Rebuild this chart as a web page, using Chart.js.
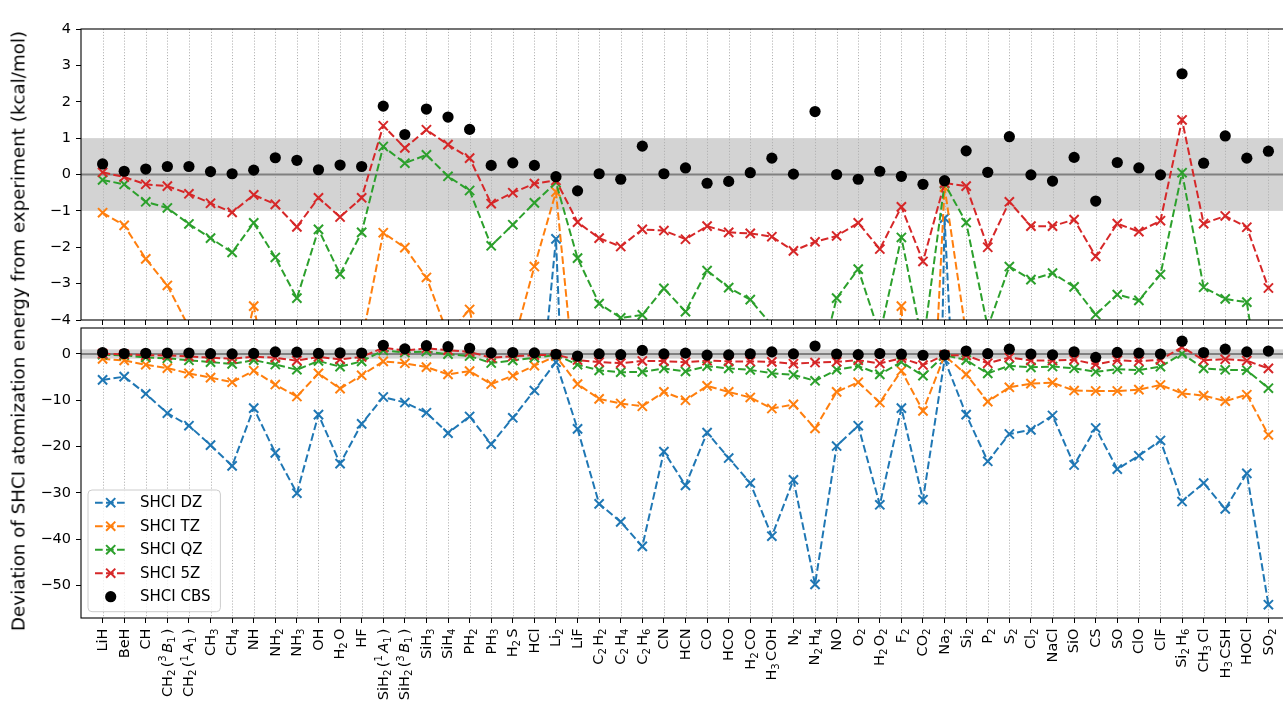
<!DOCTYPE html>
<html><head><meta charset="utf-8">
<script src="https://cdn.jsdelivr.net/npm/chart.js@4.4.0/dist/chart.umd.min.js"></script>
<style>
html,body{margin:0;padding:0;background:#fff;overflow:hidden;width:1283px;height:702px;position:relative;}
canvas{position:absolute;left:0;top:0;}
#ylab{position:absolute;left:18px;top:331px;transform:translate(-50%,-50%) rotate(-90deg);white-space:nowrap;font:18.3px "DejaVu Sans";color:#000;}
</style></head><body>
<canvas id="topc" width="1300" height="702"></canvas>
<canvas id="botc" width="1300" height="702"></canvas>
<div id="ylab">Deviation of SHCI atomization energy from experiment (kcal/mol)</div>
<script>
const categories = ['LiH','BeH','CH','CH₂(³B₁)','CH₂(¹A₁)','CH₃','CH₄','NH','NH₂','NH₃','OH','H₂O','HF',
  'SiH₂(¹A₁)','SiH₂(³B₁)','SiH₃','SiH₄','PH₂','PH₃','H₂S','HCl','Li₂','LiF','C₂H₂','C₂H₄','C₂H₆','CN','HCN',
  'CO','HCO','H₂CO','H₃COH','N₂','N₂H₄','NO','O₂','H₂O₂','F₂','CO₂','Na₂','Si₂','P₂','S₂','Cl₂','NaCl','SiO',
  'CS','SO','ClO','ClF','Si₂H₆','CH₃Cl','H₃CSH','HOCl','SO₂'];

const shciDZ = [-5.6,-4.9,-8.6,-12.8,-15.5,-19.7,-24.2,-11.7,-21.4,-30.1,-13.1,-23.7,-15.1,
  -9.3,-10.5,-12.7,-17.1,-13.5,-19.5,-13.8,-7.9,-1.77,-16.2,-32.4,-36.3,-41.6,-21.1,-28.4,
  -17.0,-22.5,-27.9,-39.4,-27.2,-49.8,-19.9,-15.5,-32.6,-11.7,-31.5,-1.2,-13.1,-23.2,-17.3,-16.4,-13.3,-24.0,
  -16.0,-24.9,-22.0,-18.7,-31.9,-27.9,-33.5,-25.8,-54.2];
const shciTZ = [-1.05,-1.4,-2.32,-3.05,-4.2,-5.1,-6.1,-3.62,-6.6,-9.2,-4.2,-7.5,-4.6,
  -1.6,-2.01,-2.83,-4.4,-3.71,-6.5,-4.7,-2.53,-0.48,-6.5,-9.7,-10.7,-11.3,-8.2,-10.0,
  -6.9,-8.2,-9.4,-11.8,-10.9,-16.1,-8.2,-6.1,-10.5,-3.62,-12.3,-0.35,-4.4,-10.3,-7.2,-6.4,-6.2,-7.9,
  -8.0,-8.0,-7.7,-6.7,-8.5,-9.0,-10.2,-8.8,-17.5];
const shciQZ = [-0.15,-0.27,-0.75,-0.92,-1.36,-1.75,-2.14,-1.33,-2.28,-3.4,-1.51,-2.74,-1.59,
  0.77,0.31,0.54,-0.05,-0.44,-1.96,-1.38,-0.78,-0.22,-2.3,-3.55,-3.94,-3.86,-3.13,-3.77,
  -2.64,-3.11,-3.44,-4.15,-4.5,-5.8,-3.4,-2.6,-4.4,-1.73,-4.7,-0.25,-1.32,-4.2,-2.53,-2.89,-2.71,-3.09,
  -3.85,-3.3,-3.46,-2.75,0.05,-3.1,-3.42,-3.51,-7.4];
const shci5Z = [0.06,-0.07,-0.27,-0.32,-0.53,-0.79,-1.04,-0.56,-0.82,-1.44,-0.64,-1.17,-0.64,
  1.34,0.73,1.23,0.82,0.45,-0.8,-0.5,-0.25,-0.16,-1.31,-1.75,-1.98,-1.51,-1.54,-1.78,
  -1.42,-1.59,-1.62,-1.71,-2.1,-1.85,-1.69,-1.33,-2.05,-0.89,-2.39,-0.23,-0.32,-2.0,-0.75,-1.42,-1.42,-1.24,
  -2.25,-1.35,-1.57,-1.27,1.5,-1.35,-1.14,-1.45,-3.12];
const shciCBS = [0.29,0.09,0.15,0.22,0.22,0.08,0.02,0.12,0.46,0.39,0.13,0.26,0.22,
  1.88,1.1,1.8,1.58,1.24,0.25,0.32,0.25,-0.06,-0.45,0.02,-0.13,0.78,0.02,0.18,
  -0.24,-0.19,0.05,0.45,0.01,1.73,0.0,-0.13,0.09,-0.05,-0.27,-0.17,0.65,0.06,1.04,-0.01,-0.18,0.47,
  -0.73,0.33,0.18,-0.01,2.77,0.31,1.06,0.45,0.64];

const topYTicks = [-4,-3,-2,-1,0,1,2,3,4];
const botYTicks = [-50,-40,-30,-20,-10,0];

const seriesDefs = [
  {label:'SHCI DZ', values: shciDZ, color:'#1f77b4'},
  {label:'SHCI TZ', values: shciTZ, color:'#ff7f0e'},
  {label:'SHCI QZ', values: shciQZ, color:'#2ca02c'},
  {label:'SHCI 5Z', values: shci5Z, color:'#d62728'}
];

const FONT = '"DejaVu Sans", sans-serif';
const TICK_SIZE = 14.5;
Chart.defaults.color = '#000';
Chart.defaults.font.family = FONT;

function buildDatasets() {
  const ds = seriesDefs.map((s, k) => ({
    label: s.label,
    data: categories.map((c, i) => ({x: i, y: s.values[i]})),
    borderColor: s.color, backgroundColor: s.color,
    borderWidth: 2, borderDash: [7.7, 3.3],
    pointStyle: 'crossRot', pointRadius: 6.5, pointBorderWidth: 2,
    pointBorderColor: s.color, pointBackgroundColor: s.color,
    fill: false, tension: 0, order: 5 - k
  }));
  ds.push({
    label: 'SHCI CBS',
    data: categories.map((c, i) => ({x: i, y: shciCBS[i]})),
    showLine: false, pointStyle: 'circle', pointRadius: 5.6, pointBorderWidth: 0,
    backgroundColor: '#000', borderColor: '#000', pointBackgroundColor: '#000', order: 0
  });
  return ds;
}

const minus = v => String(v).replace('-', '\u2212');

// split a label into normal / subscript / superscript runs (mathtext-like rendering)
const SUB = '₀₁₂₃₄₅₆₇₈₉', SUP = '⁰¹²³⁴⁵⁶⁷⁸⁹';
function parseLabel(t) {
  const segs = [];
  let prevSup = false;
  for (const ch of t) {
    let type = 'n', c = ch;
    const si = SUB.indexOf(ch), pi = SUP.indexOf(ch);
    if (si >= 0) { type = 'sub'; c = String(si); }
    else if (pi >= 0) { type = 'sup'; c = String(pi); }
    const italic = type === 'n' && prevSup && /[A-Za-z]/.test(ch);
    const last = segs[segs.length - 1];
    if (last && last.type === type && last.italic === italic) last.text += c;
    else segs.push({type, text: c, italic});
    prevSup = type === 'sup' || (italic && prevSup);
    if (type === 'n' && !italic) prevSup = false;
  }
  return segs;
}
function segFont(s, size) {
  return (s.italic ? 'italic ' : '') + (s.type === 'n' ? size : size * 0.7) + 'px ' + FONT;
}
function drawRotLabel(ctx, text, x, yTop, size) {
  const segs = parseLabel(text);
  let total = 0;
  segs.forEach((s, k) => {
    ctx.font = segFont(s, size);
    s.w = ctx.measureText(s.text).width;
    s.gap = (s.type !== 'n' && k < segs.length - 1) ? 0.16 * size : 0;
    total += s.w + s.gap;
  });
  ctx.save();
  ctx.translate(x, yTop);
  ctx.rotate(-Math.PI / 2);
  ctx.textBaseline = 'alphabetic'; ctx.textAlign = 'left'; ctx.fillStyle = '#000';
  let tx = -total;
  const base = 0.3 * size;
  segs.forEach(s => {
    ctx.font = segFont(s, size);
    const off = s.type === 'sub' ? 0.2 * size : s.type === 'sup' ? -0.38 * size : 0;
    ctx.fillText(s.text, tx, base + off);
    tx += s.w + s.gap;
  });
  ctx.restore();
}

function decorPlugin(isBottom) {
  return {
    id: 'decor',
    beforeDatasetsDraw(chart) {
      const {ctx, chartArea: a, scales: {x, y}} = chart;
      ctx.save();
      ctx.beginPath(); ctx.rect(a.left, a.top, a.right - a.left, a.bottom - a.top); ctx.clip();
      const yb1 = y.getPixelForValue(1), yb0 = y.getPixelForValue(-1);
      ctx.fillStyle = '#d3d3d3';
      ctx.fillRect(a.left, yb1, a.right - a.left, yb0 - yb1);
      ctx.strokeStyle = '#b0b0b0'; ctx.lineWidth = 1; ctx.setLineDash([1.1, 1.8]);
      categories.forEach((c, i) => {
        const px = Math.round(x.getPixelForValue(i)) + 0.5;
        ctx.beginPath(); ctx.moveTo(px, a.top); ctx.lineTo(px, a.bottom); ctx.stroke();
      });
      ctx.setLineDash([]);
      ctx.strokeStyle = '#808080'; ctx.lineWidth = 2.2;
      const z = y.getPixelForValue(0);
      ctx.beginPath(); ctx.moveTo(a.left, z); ctx.lineTo(a.right, z); ctx.stroke();
      ctx.restore();
    },
    afterDraw(chart) {
      const {ctx, chartArea: a, scales: {x}} = chart;
      ctx.save();
      ctx.strokeStyle = '#000'; ctx.lineWidth = 1.1;
      ctx.strokeRect(a.left, a.top, a.right - a.left, a.bottom - a.top);
      if (isBottom) {
        // category tick labels, placed by the x scale
        categories.forEach((c, i) => drawRotLabel(ctx, c, x.getPixelForValue(i), a.bottom + 10.5, TICK_SIZE));
        // legend
        const lx = a.left + 7, lw = 132.4, lh = 121.7, ly = a.bottom - 6.3 - lh;
        ctx.beginPath();
        ctx.roundRect(lx, ly, lw, lh, 4);
        ctx.fillStyle = 'rgba(255,255,255,0.8)'; ctx.fill();
        ctx.strokeStyle = '#cccccc'; ctx.lineWidth = 1; ctx.stroke();
        chart.data.datasets.forEach((d, k) => {
          const ry = ly + 12.7 + k * 23.5;
          const mx = lx + 22.7;
          if (d.showLine !== false) {
            ctx.strokeStyle = d.borderColor; ctx.lineWidth = 2; ctx.setLineDash([7.7, 3.3]);
            ctx.beginPath(); ctx.moveTo(lx + 7, ry); ctx.lineTo(lx + 38.7, ry); ctx.stroke();
            ctx.setLineDash([]);
            const r = 6.5 * Math.SQRT1_2;
            ctx.beginPath();
            ctx.moveTo(mx - r, ry - r); ctx.lineTo(mx + r, ry + r);
            ctx.moveTo(mx - r, ry + r); ctx.lineTo(mx + r, ry - r);
            ctx.stroke();
          } else {
            ctx.fillStyle = '#000';
            ctx.beginPath(); ctx.arc(mx, ry, 5.6, 0, Math.PI * 2); ctx.fill();
          }
          ctx.fillStyle = '#000'; ctx.font = '15px ' + FONT;
          ctx.textBaseline = 'middle'; ctx.textAlign = 'left';
          ctx.fillText(d.label, lx + 52, ry + 0.5);
        });
      }
      ctx.restore();
    }
  };
}

function makeChart(id, isBottom) {
  const yTicks = isBottom ? botYTicks : topYTicks;
  return new Chart(document.getElementById(id), {
    type: 'line',
    data: {datasets: buildDatasets()},
    options: {
      responsive: false, animation: false, devicePixelRatio: 1, events: [],
      layout: {padding: isBottom ? {top: 328, bottom: 0, left: 0, right: 10}
                                 : {top: 29, bottom: 372, left: 0, right: 10}},
      plugins: {legend: {display: false}, tooltip: {enabled: false}},
      scales: {
        x: {
          type: 'linear', min: -1, max: 55,
          afterBuildTicks: s => { s.ticks = categories.map((c, i) => ({value: i})); },
          afterFit: s => { s.height = isBottom ? 84 : 10; },
          grid: {drawOnChartArea: false, drawTicks: true, tickLength: 5, tickColor: '#000', tickWidth: 1},
          border: {display: false},
          ticks: {display: false, autoSkip: false, maxRotation: 0, minRotation: 0,
                  callback: v => categories[v] !== undefined ? categories[v] : ''}
        },
        y: {
          type: 'linear',
          min: isBottom ? -57.08 : -4, max: isBottom ? 5.62 : 4,
          afterBuildTicks: s => { s.ticks = yTicks.map(v => ({value: v})); },
          afterFit: s => { s.width = 81; },
          grid: {drawOnChartArea: false, drawTicks: true, tickLength: 5, tickColor: '#000', tickWidth: 1},
          border: {display: false},
          ticks: {padding: 5, font: {size: TICK_SIZE, family: FONT}, color: '#000', callback: v => minus(v)}
        }
      }
    },
    plugins: [decorPlugin(isBottom)]
  });
}

makeChart('topc', false);
makeChart('botc', true);
</script>
</body></html>
